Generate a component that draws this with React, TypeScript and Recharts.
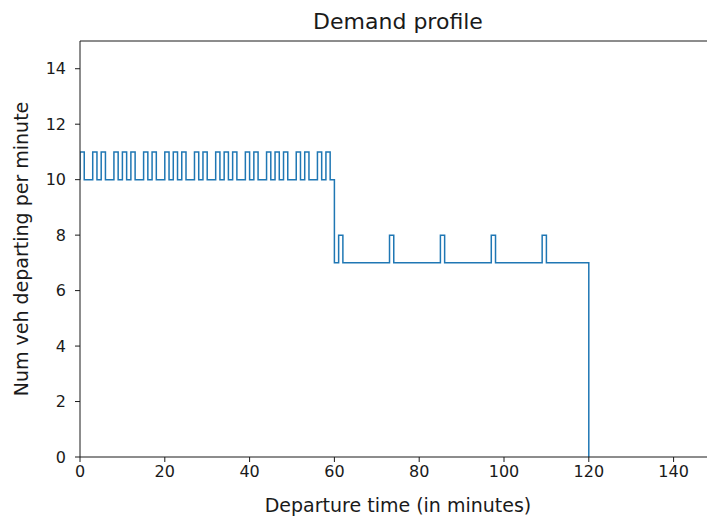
import { LineChart, Line, XAxis, YAxis, ReferenceLine } from 'recharts'

// vehicles departing in each minute
const firstHour = [
  11, 10, 10, 11, 10, 11, 10, 10, 11, 10, 11, 10,
  11, 10, 10, 11, 10, 11, 10, 10, 11, 10, 11, 10,
  11, 10, 10, 11, 10, 11, 10, 10, 11, 10, 11, 10,
  11, 10, 10, 11, 10, 11, 10, 10, 11, 10, 11, 10,
  11, 10, 10, 11, 10, 11, 10, 10, 11, 10, 11, 10,
]
const secondHour = [
  7, 8, 7, 7, 7, 7, 7, 7, 7, 7, 7, 7,
  7, 8, 7, 7, 7, 7, 7, 7, 7, 7, 7, 7,
  7, 8, 7, 7, 7, 7, 7, 7, 7, 7, 7, 7,
  7, 8, 7, 7, 7, 7, 7, 7, 7, 7, 7, 7,
  7, 8, 7, 7, 7, 7, 7, 7, 7, 7, 7, 7,
]
const startLevel = 10
const endLevel = 0
const endMinute = 120

const xTicks = [0, 20, 40, 60, 80, 100, 120, 140]
const yTicks = [0, 2, 4, 6, 8, 10, 12, 14]

const data = [
  { t: 0, v: startLevel },
  ...firstHour.map((v, i) => ({ t: i, v })),
  ...secondHour.map((v, i) => ({ t: firstHour.length + i, v })),
  { t: endMinute, v: endLevel },
]

const font = '"DejaVu Sans", sans-serif'
const ink = '#1a1a1a'

export default function App() {
  return (
    <div
      style={{
        position: 'absolute',
        left: 0,
        top: 0,
        width: 707,
        height: 517,
        overflow: 'hidden',
        background: '#fff',
        fontFamily: font,
        color: ink,
      }}
    >
      <div
        style={{
          position: 'absolute',
          left: 80,
          width: 636,
          top: 9,
          textAlign: 'center',
          fontSize: 22,
          lineHeight: '26px',
        }}
      >
        Demand profile
      </div>
      <div
        style={{
          position: 'absolute',
          left: 80,
          width: 636,
          top: 494,
          textAlign: 'center',
          fontSize: 19,
          lineHeight: '22px',
        }}
      >
        Departure time (in minutes)
      </div>
      <div
        style={{
          position: 'absolute',
          left: 21,
          top: 249,
          transform: 'translate(-50%, -50%) rotate(-90deg)',
          whiteSpace: 'nowrap',
          fontSize: 19,
          lineHeight: '22px',
        }}
      >
        Num veh departing per minute
      </div>

      <LineChart
        width={740}
        height={517}
        data={data}
        margin={{ top: 41, right: 24, bottom: 0, left: 0 }}
        style={{ position: 'absolute', left: 0, top: 0 }}
      >
        <XAxis
          dataKey="t"
          type="number"
          domain={[0, 150]}
          ticks={xTicks}
          allowDataOverflow
          height={60}
          tickSize={5}
          tickMargin={4}
          stroke={ink}
          tick={{ fill: ink, fontSize: 16, fontFamily: font }}
        />
        <YAxis
          type="number"
          domain={[0, 15]}
          ticks={yTicks}
          allowDataOverflow
          width={80}
          tickSize={5}
          tickMargin={9}
          stroke={ink}
          tick={{ fill: ink, fontSize: 16, fontFamily: font }}
        />
        <ReferenceLine y={15} stroke={ink} />
        <Line
          type="stepAfter"
          dataKey="v"
          stroke="#1f77b4"
          strokeWidth={1.5}
          dot={false}
          isAnimationActive={false}
        />
      </LineChart>
    </div>
  )
}
